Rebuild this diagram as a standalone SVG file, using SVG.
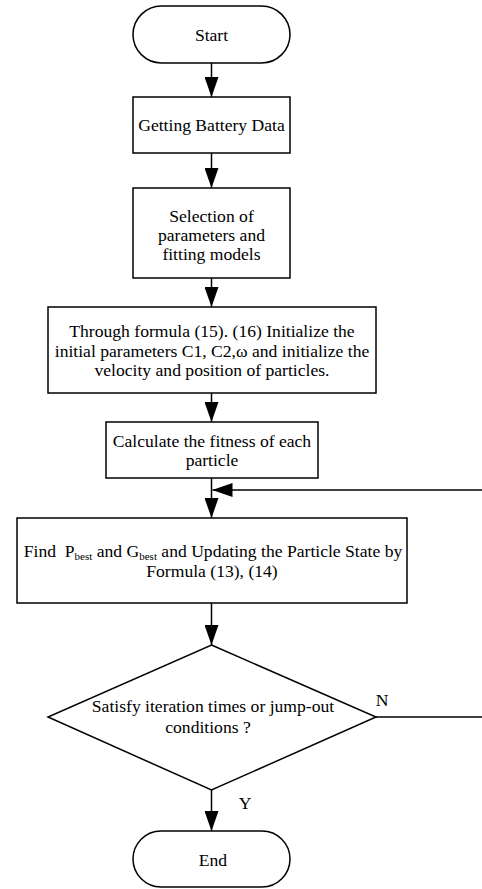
<svg xmlns="http://www.w3.org/2000/svg" width="482" height="889" viewBox="0 0 482 889">
<defs>
<marker id="ah" markerWidth="20" markerHeight="14" refX="20" refY="7" orient="auto" markerUnits="userSpaceOnUse">
<path d="M0,0 L20,7 L0,14 Z" fill="#000"/>
</marker>
<style>
.sh{fill:#fff;stroke:#000;stroke-width:1.5}
.t{font-family:"Liberation Serif","Times New Roman",serif;font-size:17.6px;fill:#000;text-anchor:middle}
.c{fill:none;stroke:#000;stroke-width:1.5}
</style>
</defs>
<rect width="482" height="889" fill="#fff"/>
<g id="start">
<rect class="sh" x="133" y="6" width="157" height="57" rx="28.5" ry="28.5"/>
<text class="t" x="211.5" y="41">Start</text>
</g>
<g id="getdata">
<rect class="sh" x="133" y="97" width="157" height="56"/>
<text class="t" x="211.5" y="131">Getting Battery Data</text>
</g>
<g id="select">
<rect class="sh" x="133" y="188" width="157" height="90"/>
<text class="t" x="211.5" y="222">Selection of</text>
<text class="t" x="211.5" y="241">parameters and</text>
<text class="t" x="211.5" y="260">fitting models</text>
</g>
<g id="init">
<rect class="sh" x="48" y="307" width="328" height="86"/>
<text class="t" x="212" y="337">Through formula (15). (16) Initialize the</text>
<text class="t" x="212" y="357">initial parameters C1, C2,ω and initialize the</text>
<text class="t" x="212" y="376">velocity and position of particles.</text>
</g>
<g id="fitness">
<rect class="sh" x="106" y="422" width="212" height="56"/>
<text class="t" x="212" y="447">Calculate the fitness of each</text>
<text class="t" x="212" y="466">particle</text>
</g>
<g id="update">
<rect class="sh" x="17" y="518" width="390" height="85"/>
<text class="t" x="213" y="557" xml:space="preserve">Find  P<tspan font-size="11" dy="3">best</tspan><tspan dy="-3"> and G</tspan><tspan font-size="11" dy="3">best</tspan><tspan dy="-3"> and Updating the Particle State by</tspan></text>
<text class="t" x="212" y="577">Formula (13), (14)</text>
</g>
<g id="decision">
<polygon class="sh" points="211.5,645 376,717 211.5,790 48,717"/>
<text class="t" x="213" y="712">Satisfy iteration times or jump-out</text>
<text class="t" x="208" y="733">conditions ?</text>
</g>
<g id="end">
<rect class="sh" x="133" y="831" width="157" height="56" rx="28" ry="28"/>
<text class="t" x="213" y="866">End</text>
</g>
<g id="connectors">
<line class="c" x1="211.5" y1="63" x2="211.5" y2="97" marker-end="url(#ah)"/>
<line class="c" x1="211.5" y1="153" x2="211.5" y2="188" marker-end="url(#ah)"/>
<line class="c" x1="211.5" y1="278" x2="211.5" y2="307" marker-end="url(#ah)"/>
<line class="c" x1="211.5" y1="393" x2="211.5" y2="422" marker-end="url(#ah)"/>
<line class="c" x1="211.5" y1="478" x2="211.5" y2="518" marker-end="url(#ah)"/>
<line class="c" x1="482" y1="490" x2="212.5" y2="490" marker-end="url(#ah)"/>
<line class="c" x1="211.5" y1="603" x2="211.5" y2="645" marker-end="url(#ah)"/>
<line class="c" x1="376" y1="717" x2="482" y2="717"/>
<line class="c" x1="211.5" y1="790" x2="211.5" y2="831" marker-end="url(#ah)"/>
<text class="t" x="382" y="706">N</text>
<text class="t" x="245" y="809">Y</text>
</g>
</svg>
